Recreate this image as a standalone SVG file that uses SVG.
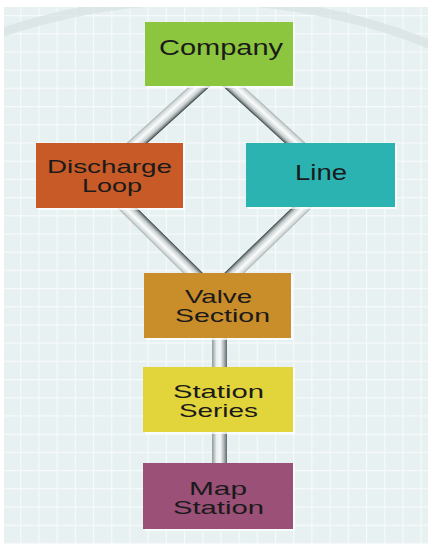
<svg xmlns="http://www.w3.org/2000/svg" width="428" height="544" viewBox="0 0 428 544">
  <defs>
    <pattern id="grid" x="2" y="15" width="18.2" height="18.2" patternUnits="userSpaceOnUse">
      <rect width="18.2" height="18.2" fill="#e8f1f2"/>
      <path d="M0 0H18.2M0 0V18.2" stroke="#f7fafa" stroke-width="2.2" fill="none"/>
    </pattern>
    <linearGradient id="tubeA" x1="0" y1="0" x2="0" y2="1">
      <stop offset="0" stop-color="#2e3436"/>
      <stop offset="0.1" stop-color="#7d8789"/>
      <stop offset="0.28" stop-color="#c9d0d1"/>
      <stop offset="0.58" stop-color="#fbfcfc"/>
      <stop offset="0.85" stop-color="#d6dcdd"/>
      <stop offset="1" stop-color="#a9b2b4"/>
    </linearGradient>
    <linearGradient id="tubeB" x1="0" y1="1" x2="0" y2="0">
      <stop offset="0" stop-color="#2e3436"/>
      <stop offset="0.1" stop-color="#7d8789"/>
      <stop offset="0.28" stop-color="#c9d0d1"/>
      <stop offset="0.58" stop-color="#fbfcfc"/>
      <stop offset="0.85" stop-color="#d6dcdd"/>
      <stop offset="1" stop-color="#a9b2b4"/>
    </linearGradient>
    <linearGradient id="tubeV" x1="0" y1="0" x2="1" y2="0">
      <stop offset="0" stop-color="#8e999b"/>
      <stop offset="0.3" stop-color="#e9eeee"/>
      <stop offset="0.55" stop-color="#f6f8f8"/>
      <stop offset="0.8" stop-color="#aab3b5"/>
      <stop offset="1" stop-color="#5f696b"/>
    </linearGradient>
    <clipPath id="bgclip"><rect x="4" y="7" width="424" height="537"/></clipPath>
  </defs>
  <style>
    .shadow { fill: #ffffff; opacity: 0.75; }
    .lbl { font-family: "Liberation Sans", Arial, sans-serif; font-size: 19px; fill: #1a1a1a; text-anchor: middle; }
    .big { font-size: 22px; }
  </style>

  <rect width="428" height="544" fill="#ffffff"/>
  <rect x="4" y="7" width="424" height="537" fill="url(#grid)"/>
  <g clip-path="url(#bgclip)">
    <circle cx="200" cy="619" r="619" fill="none" stroke="#d9e3e4" stroke-width="9" opacity="0.8"/>
  </g>

  <g id="connectors">
    <g transform="translate(211,76) rotate(137.83)"><rect x="0" y="-7" width="115" height="14" fill="url(#tubeA)"/></g>
    <g transform="translate(222,76) rotate(42.51)"><rect x="0" y="-7" width="114" height="14" fill="url(#tubeB)"/></g>
    <g transform="translate(117,198) rotate(44.66)"><rect x="0" y="-7" width="121" height="14" fill="url(#tubeA)"/></g>
    <g transform="translate(312,198) rotate(136.0)"><rect x="0" y="-7" width="122" height="14" fill="url(#tubeB)"/></g>
    <rect x="212" y="330" width="15" height="145" fill="url(#tubeV)"/>
  </g>

  <g id="company">
    <rect class="shadow" x="147" y="24" width="148" height="64"/>
    <rect x="145" y="22" width="148" height="64" fill="#8cc63e"/>
    <text class="lbl big" x="221" y="55" textLength="124" lengthAdjust="spacingAndGlyphs">Company</text>
  </g>

  <g id="discharge-loop">
    <rect class="shadow" x="38" y="145" width="147" height="65"/>
    <rect x="36" y="143" width="147" height="65" fill="#c75a27"/>
    <text class="lbl" x="109.5" y="172.5" textLength="125" lengthAdjust="spacingAndGlyphs">Discharge</text>
    <text class="lbl" x="112" y="191.5" textLength="60" lengthAdjust="spacingAndGlyphs">Loop</text>
  </g>

  <g id="line">
    <rect class="shadow" x="248" y="145" width="149" height="64"/>
    <rect x="246" y="143" width="149" height="64" fill="#2bb3b1"/>
    <text class="lbl big" x="321" y="180" textLength="52" lengthAdjust="spacingAndGlyphs">Line</text>
  </g>

  <g id="valve-section">
    <rect class="shadow" x="146" y="275" width="147" height="65"/>
    <rect x="144" y="273" width="147" height="65" fill="#c98d2a"/>
    <text class="lbl" x="218.5" y="303" textLength="67" lengthAdjust="spacingAndGlyphs">Valve</text>
    <text class="lbl" x="222.5" y="322" textLength="95" lengthAdjust="spacingAndGlyphs">Section</text>
  </g>

  <g id="station-series">
    <rect class="shadow" x="145" y="369" width="150" height="65"/>
    <rect x="143" y="367" width="150" height="65" fill="#e2d53c"/>
    <text class="lbl" x="218.5" y="397.5" textLength="91" lengthAdjust="spacingAndGlyphs">Station</text>
    <text class="lbl" x="218.5" y="416.5" textLength="79" lengthAdjust="spacingAndGlyphs">Series</text>
  </g>

  <g id="map-station">
    <rect class="shadow" x="145" y="465" width="150" height="66"/>
    <rect x="143" y="463" width="150" height="66" fill="#9b5077"/>
    <text class="lbl" x="218" y="494.5" textLength="58" lengthAdjust="spacingAndGlyphs">Map</text>
    <text class="lbl" x="218.5" y="513.5" textLength="91" lengthAdjust="spacingAndGlyphs">Station</text>
  </g>
</svg>
